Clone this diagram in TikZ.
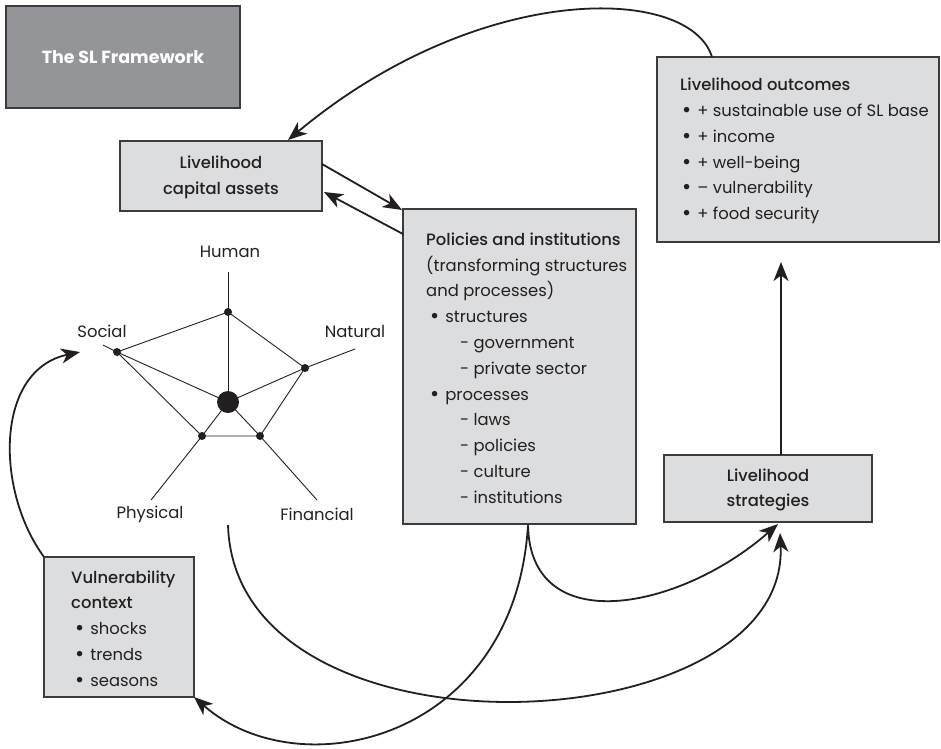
\documentclass[tikz,border=0pt]{standalone}
\usepackage{graphicx}
\usepackage{fontspec}
\setmainfont{Poppins}
\newfontfamily\medfont{Poppins Medium}
\usetikzlibrary{arrows.meta}
\definecolor{boxfill}{HTML}{DCDDDE}
\definecolor{slfill}{HTML}{939598}
\definecolor{ink}{HTML}{231F20}
\definecolor{boxline}{HTML}{3C3C3C}
\newcommand\myblt{\raisebox{-0.12ex}{\scalebox{1.35}{\textbullet}}}
\tikzset{
  box/.style={draw=boxline, fill=boxfill, line width=1.3pt, inner sep=0pt},
  txt/.style={inner sep=0pt, align=left, font=\fontsize{16.4}{25.8}\selectfont, text=ink},
  ctxt/.style={inner sep=0pt, align=center, font=\fontsize{16.4}{25.8}\selectfont\medfont, text=ink},
  lbl/.style={inner sep=0pt, font=\fontsize{16.4}{18}\selectfont, text=ink},
  conn/.style={draw=ink, line width=1.8pt, -{Stealth[length=19pt,width=15pt,inset=5.5pt]}},
  spoke/.style={draw=ink, line width=0.9pt},
  dot/.style={circle, fill=ink, inner sep=0pt, minimum size=8pt},
  bigdot/.style={circle, fill=ink, inner sep=0pt, minimum size=22pt}
}
\begin{document}
\begin{tikzpicture}[x=1pt, y=-1pt]
\useasboundingbox (0,0) rectangle (941,748);

% boxes
\node[draw=boxline, fill=slfill, line width=1.3pt, minimum width=234pt, minimum height=102pt, inner sep=0pt,
      text=white, font=\fontsize{17.5}{20}\selectfont\bfseries] (sl) at (123,57) {The SL Framework};
\node[box, minimum width=202pt, minimum height=70pt] (cap) at (221,176) {};
\node[ctxt] (captxt) at (221,177) {Livelihood\\capital assets};
\node[box, minimum width=233pt, minimum height=315pt] (pol) at (519.5,366.5) {};
\node[txt, anchor=west] (poltxt) at (426,368) {{\medfont Policies and institutions}\\
(transforming structures\\
and processes)\\
\hspace{4pt}\myblt\hspace{6pt}structures\\
\hspace{34pt}- government\\
\hspace{34pt}- private sector\\
\hspace{4pt}\myblt\hspace{6pt}processes\\
\hspace{34pt}- laws\\
\hspace{34pt}- policies\\
\hspace{34pt}- culture\\
\hspace{34pt}- institutions};
\node[box, minimum width=282pt, minimum height=185pt] (out) at (798,149.5) {};
\node[txt, anchor=west] (outtxt) at (680,151) {{\medfont Livelihood outcomes}\\
\hspace{2pt}\myblt\hspace{6pt}+ sustainable use of SL base\\
\hspace{2pt}\myblt\hspace{6pt}+ income\\
\hspace{2pt}\myblt\hspace{6pt}+ well-being\\
\hspace{2pt}\myblt\hspace{6pt}– vulnerability\\
\hspace{2pt}\myblt\hspace{6pt}+ food security};
\node[box, minimum width=208pt, minimum height=67pt] (str) at (768,488.5) {};
\node[ctxt] (strtxt) at (768,490) {Livelihood\\strategies};
\node[box, minimum width=150pt, minimum height=140pt] (vul) at (119,627) {};
\node[txt, anchor=west] (vultxt) at (71,629) {{\medfont Vulnerability}\\
{\medfont context}\\
\hspace{4pt}\myblt\hspace{6pt}shocks\\
\hspace{4pt}\myblt\hspace{6pt}trends\\
\hspace{4pt}\myblt\hspace{6pt}seasons};

% spider diagram
\coordinate (HuE) at (228,272);
\coordinate (SoE) at (103,345);
\coordinate (NaE) at (355,349);
\coordinate (PhE) at (151,500);
\coordinate (FiE) at (317,500);
\coordinate (Cc) at (228,402);
\coordinate (Hu) at (228,312);
\coordinate (So) at (117,352);
\coordinate (Na) at (305,368);
\coordinate (Ph) at (202,436);
\coordinate (Fi) at (260,436);
\draw[spoke] (Cc) -- (HuE);
\draw[spoke] (Cc) -- (So) -- (SoE);
\draw[spoke] (Cc) -- (Na) -- (NaE);
\draw[spoke] (Cc) -- (Ph) -- (PhE);
\draw[spoke] (Cc) -- (Fi) -- (FiE);
\draw[spoke] (Hu) -- (Na) -- (Fi) -- (Ph) -- (So) -- cycle;
\node[bigdot] (cdot) at (Cc) {};
\node[dot] (hudot) at (Hu) {};
\node[dot] (sodot) at (So) {};
\node[dot] (nadot) at (Na) {};
\node[dot] (phdot) at (Ph) {};
\node[dot] (fidot) at (Fi) {};
\node[lbl] (huL) at (230,252) {Human};
\node[lbl] (soL) at (102,331) {Social};
\node[lbl] (naL) at (355,331) {Natural};
\node[lbl] (phL) at (150,514) {Physical};
\node[lbl] (fiL) at (317,514) {Financial};

% connector end points
\coordinate (outTop) at (712,57);
\coordinate (capTop) at (288,140);
\coordinate (capR1) at (322,164);
\coordinate (polTL) at (402,210);
\coordinate (polL) at (403,234);
\coordinate (capR2) at (324,192);
\coordinate (strTop) at (781,455);
\coordinate (outBot) at (781,262);
\coordinate (vulTop) at (44,557);
\coordinate (socIn) at (80,352);
\coordinate (spBot) at (228,525);
\coordinate (polBot) at (528,525);
\coordinate (strB1) at (778,524);
\coordinate (strB2) at (780,533);
\coordinate (vulBR) at (194,697);

% connectors
\draw[conn] (outTop) .. controls (690,-15) and (480,-20) .. (capTop);
\draw[conn] (capR1) -- (polTL);
\draw[conn] (polL) -- (capR2);
\draw[conn] (strTop) -- (outBot);
\draw[conn] (vulTop) .. controls (-5,490) and (-5,370) .. (socIn);
\draw[conn] (spBot) .. controls (235,770) and (790,745) .. (strB2);
\draw[conn] (polBot) .. controls (515,740) and (300,790) .. (vulBR);
\draw[conn] (polBot) .. controls (530,640) and (680,610) .. (strB1);
\end{tikzpicture}
\end{document}
